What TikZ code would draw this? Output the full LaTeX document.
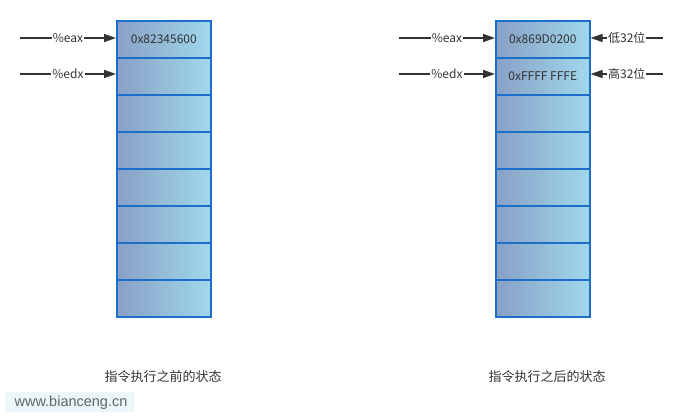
\documentclass[tikz,border=0pt]{standalone}
\usepackage{fontspec}
\setmainfont{Noto Sans CJK SC}
\newfontfamily\wmfont{Liberation Sans}
\usetikzlibrary{arrows.meta}
\definecolor{cellL}{RGB}{136,160,196}
\definecolor{cellR}{RGB}{160,216,238}
\definecolor{cellB}{RGB}{28,110,200}
\definecolor{ink}{RGB}{51,51,51}
\definecolor{wmbg}{RGB}{234,246,248}
\begin{document}
\begin{tikzpicture}[x=1pt,y=-1pt,
  cellbox/.style={draw=cellB,line width=1.6pt,left color=cellL,right color=cellR,
    minimum width=94pt,minimum height=37pt,inner sep=0pt,anchor=north west},
  celltext/.style={font=\fontsize{12}{14}\selectfont,text=ink},
  regarrow/.style={draw=ink,line width=1.4pt,-{Triangle[length=12pt,width=8pt]}},
  reglabel/.style={fill=white,inner sep=1pt,font=\fontsize{12}{14}\selectfont,text=ink},
  caption/.style={font=\fontsize{13}{15}\selectfont,text=ink}]
\useasboundingbox (0,0) rectangle (683,417);
% left stack
\foreach \i in {0,...,7} {
  \node[cellbox] (L\i) at (116,{20+37*\i}) {};
}
\node[celltext] (tL0) at (L0.center) {0x82345600};
% right stack
\foreach \i in {0,...,7} {
  \node[cellbox] (R\i) at (495,{20+37*\i}) {};
}
\node[celltext] (tR0) at (R0.center) {0x869D0200};
\node[celltext] (tR1) at (R1.center) {0xFFFF FFFE};
% left arrows
\coordinate (la0) at (20,38);
\coordinate (la1) at (20,74);
\draw[regarrow] (la0) -- (L0.west |- la0) node[reglabel,pos=0.5] {\%eax};
\draw[regarrow] (la1) -- (L1.west |- la1) node[reglabel,pos=0.5] {\%edx};
% right-stack arrows
\coordinate (ra0) at (399,38);
\coordinate (ra1) at (399,74);
\draw[regarrow] (ra0) -- (R0.west |- ra0) node[reglabel,pos=0.5] {\%eax};
\draw[regarrow] (ra1) -- (R1.west |- ra1) node[reglabel,pos=0.5] {\%edx};
\coordinate (rb0) at (663,38);
\coordinate (rb1) at (663,74);
\draw[regarrow] (rb0) -- (R0.east |- rb0) node[reglabel,pos=0.5] {低32位};
\draw[regarrow] (rb1) -- (R1.east |- rb1) node[reglabel,pos=0.5] {高32位};
% captions
\node[caption] (capL) at (163,377) {指令执行之前的状态};
\node[caption] (capR) at (547,377) {指令执行之后的状态};
% watermark
\fill[wmbg] (5,392) rectangle (134,412);
\node[font=\wmfont\fontsize{14.5}{16}\selectfont,text={rgb,255:red,100;green,100;blue,100}] (wm) at (71,403) {www.bianceng.cn};
\end{tikzpicture}
\end{document}
